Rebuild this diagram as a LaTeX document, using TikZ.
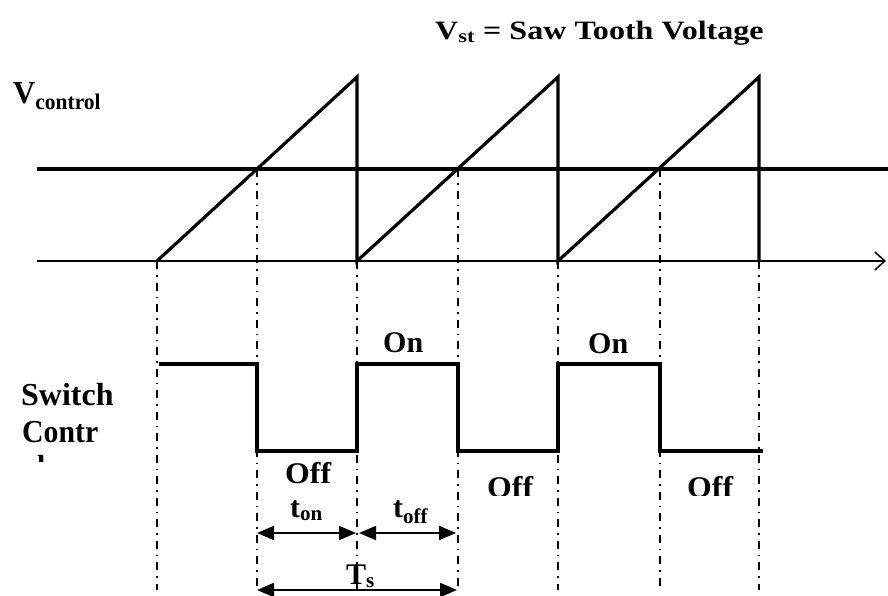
\documentclass[tikz,border=0pt]{standalone}
\usepackage{fontspec}
\setmainfont{Liberation Serif}
\usetikzlibrary{arrows.meta}
\newcommand{\xstr}[2]{\scalebox{#1}[1]{#2}}
\begin{document}
\begin{tikzpicture}[x=1pt,y=-1pt,
  wave/.style={line width=3.2pt, line join=miter},
  axisline/.style={line width=1.6pt},
  guide/.style={line width=1.6pt, dash pattern=on 8pt off 6pt on 1.5pt off 6pt},
  lbl/.style={inner sep=0pt, anchor=base west, font=\bfseries\fontsize{30}{34}\selectfont},
  biglbl/.style={inner sep=0pt, anchor=base west, font=\bfseries\fontsize{32}{37}\selectfont},
  dimline/.style={line width=2pt, {Triangle[length=17pt,width=14pt]}-{Triangle[length=17pt,width=14pt]}}]
\useasboundingbox (0,0) rectangle (888,595);

% key coordinates
\coordinate (a0) at (157,261);
\coordinate (p1) at (357,77);
\coordinate (a1) at (357,261);
\coordinate (p2) at (558,77);
\coordinate (a2) at (558,261);
\coordinate (p3) at (759,77);
\coordinate (a3) at (759,261);

% axis and control level
\coordinate (ax0) at (37,261);
\coordinate (ax1) at (886,261);
\draw[axisline, -{Straight Barb[length=10pt,width=18pt,line width=1.6pt]}] (ax0) -- (ax1);
\coordinate (cl0) at (37,169);
\coordinate (cl1) at (888,169);
\draw[wave] (cl0) -- (cl1);

% saw tooth
\draw[wave] (a0) -- (p1) -- (a1) -- (p2) -- (a2) -- (p3) -- (a3);

% guide lines
\foreach \n/\x/\y in {g0/157/261, g1/257/169, g2/357/261, g3/458/169, g4/558/261, g5/660/169, g6/759/261}{
  \coordinate (\n t) at (\x,\y);
  \coordinate (\n b) at (\x,590);
  \draw[guide] (\n t) -- (\n b);
}

% switch control waveform
\coordinate (s0) at (159,364);
\coordinate (s1) at (257,364);
\coordinate (s2) at (257,451);
\coordinate (s3) at (357,451);
\coordinate (s4) at (357,364);
\coordinate (s5) at (458,364);
\coordinate (s6) at (458,451);
\coordinate (s7) at (558,451);
\coordinate (s8) at (558,364);
\coordinate (s9) at (660,364);
\coordinate (s10) at (660,451);
\coordinate (s11) at (763,451);
\draw[wave] (s0) -- (s1) -- (s2) -- (s3) -- (s4) -- (s5) -- (s6) -- (s7) -- (s8) -- (s9) -- (s10) -- (s11);

% dimension arrows
\coordinate (d1) at (257,533);
\coordinate (d2) at (356,533);
\coordinate (d3) at (359,533);
\coordinate (d4) at (456,533);
\coordinate (d5) at (257,590);
\coordinate (d6) at (457,590);
\draw[dimline] (d1) -- (d2);
\draw[dimline] (d3) -- (d4);
\draw[dimline] (d5) -- (d6);

% labels
\node[inner sep=0pt, anchor=base west, font=\bfseries\fontsize{26.5}{31}\selectfont] (title) at (435,39) {\xstr{1.21}{V\textsubscript{st} = Saw Tooth Voltage}};
\node[biglbl] (vc) at (13,103) {\xstr{0.96}{V\textsubscript{control}}};
\node[biglbl] (sw) at (21,405) {Switch};
\node[biglbl] (ct) at (22,442) {\xstr{0.93}{Contr}};
\begin{scope}
  \clip (0,440) rectangle (200,461);
  \node[biglbl] (ol) at (22,477) {\xstr{0.93}{ol}};
\end{scope}
\begin{scope}
  \clip (370,320) rectangle (440,352);
  \node[lbl] (on1) at (383,352.7) {\xstr{1.0}{On}};
\end{scope}
\begin{scope}
  \clip (575,320) rectangle (645,353);
  \node[lbl] (on2) at (588,353.7) {\xstr{1.0}{On}};
\end{scope}
\begin{scope}
  \clip (270,455) rectangle (350,483);
  \node[lbl] (off1) at (285,483.7) {\xstr{1.06}{Off}};
\end{scope}
\begin{scope}
  \clip (470,465) rectangle (550,495);
  \node[lbl] (off2) at (487,497.7) {\xstr{1.06}{Off}};
\end{scope}
\begin{scope}
  \clip (670,465) rectangle (750,495);
  \node[lbl] (off3) at (687,497.7) {\xstr{1.06}{Off}};
\end{scope}
\node[lbl] (ton) at (290,517) {t\textsubscript{on}};
\node[lbl] (toff) at (393,517) {t\textsubscript{off}};
\node[lbl] (ts) at (346,584) {T\textsubscript{s}};
\end{tikzpicture}
\end{document}
